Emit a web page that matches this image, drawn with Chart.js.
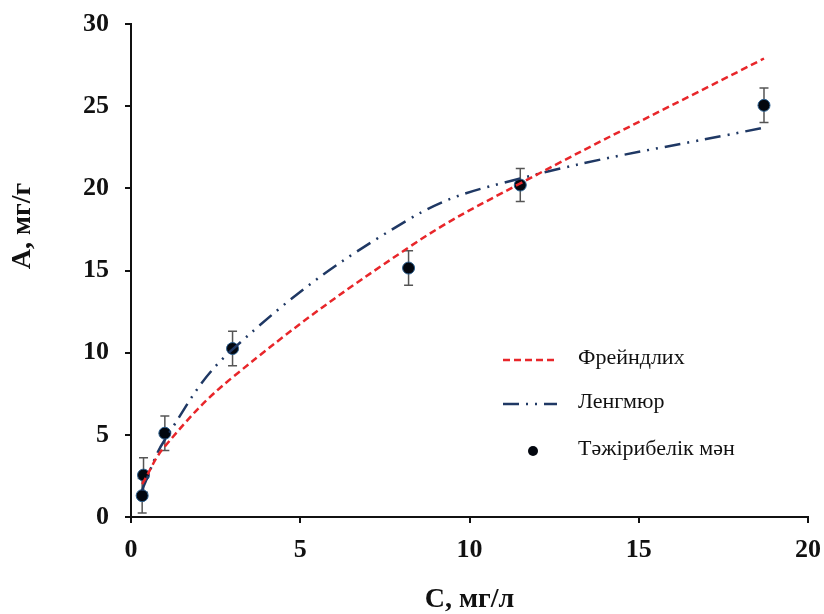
<!DOCTYPE html>
<html>
<head>
<meta charset="utf-8">
<script src="https://cdn.jsdelivr.net/npm/chart.js@4.4.1/dist/chart.umd.min.js"></script>
<style>
  html, body { margin: 0; padding: 0; background: #fff; }
  #wrap { width: 824px; height: 614px; }
</style>
</head>
<body>
<div id="wrap"><canvas id="myChart" width="824" height="614"></canvas></div>
<script>
  // C, мг/л  (experimental points)
  const concC = [0.33, 0.37, 1.0, 3.0, 8.2, 11.5, 18.7];
  // А, мг/г
  const expA = [1.3, 2.55, 5.1, 10.25, 15.15, 20.2, 25.05];
  const errA = [1.05, 1.05, 1.05, 1.05, 1.05, 1.0, 1.05];
  // model curves read at the same C values
  const freundlichA = [2.0, 2.15, 4.3, 8.5, 16.4, 20.3, 27.9];
  const langmuirA = [1.6, 1.85, 4.7, 10.2, 18.1, 20.6, 23.7];

  const xTicks = [0, 5, 10, 15, 20];
  const yTicks = [0, 5, 10, 15, 20, 25, 30];

  const xTitle = 'С, мг/л';
  const yTitle = 'А, мг/г';

  const serif = "'Times New Roman', 'Liberation Serif', serif";

  const pts = (ys) => concC.map((c, i) => ({ x: c, y: ys[i] }));

  const data = {
    datasets: [
      {
        label: 'Фрейндлих',
        data: pts(freundlichA),
        showLine: true,
        borderColor: '#e8262a',
        borderWidth: 2.5,
        borderDash: [7, 4],
        pointRadius: 0,
        tension: 0.4,
        fill: false
      },
      {
        label: 'Ленгмюр',
        data: pts(langmuirA),
        showLine: true,
        borderColor: '#1f3864',
        borderWidth: 2.5,
        borderDash: [16, 7, 2, 7, 2, 7],
        pointRadius: 0,
        tension: 0.4,
        fill: false
      },
      {
        label: 'Тәжірибелік мән',
        data: pts(expA),
        showLine: false,
        pointRadius: 6,
        pointBackgroundColor: '#03070f',
        pointBorderColor: '#2b5f8f',
        pointBorderWidth: 1
      }
    ]
  };

  // error bars on the experimental series
  const errorBars = {
    id: 'errorBars',
    beforeDatasetsDraw(chart) {
      const ctx = chart.ctx;
      const xs = chart.scales.x, ys = chart.scales.y;
      ctx.save();
      ctx.strokeStyle = '#555';
      ctx.lineWidth = 1.5;
      concC.forEach((c, i) => {
        const px = xs.getPixelForValue(c);
        const top = ys.getPixelForValue(expA[i] + errA[i]);
        const bot = ys.getPixelForValue(expA[i] - errA[i]);
        ctx.beginPath();
        ctx.moveTo(px, top); ctx.lineTo(px, bot);
        ctx.moveTo(px - 4.5, top); ctx.lineTo(px + 4.5, top);
        ctx.moveTo(px - 4.5, bot); ctx.lineTo(px + 4.5, bot);
        ctx.stroke();
      });
      ctx.restore();
    }
  };

  // legend drawn inside the plot + y title sitting a bit above centre
  const innerLegend = {
    id: 'innerLegend',
    afterDraw(chart) {
      const ctx = chart.ctx;
      const a = chart.chartArea;
      const x0 = a.left + 372, x1 = a.left + 426, tx = a.left + 447;
      const rows = [a.top + 336, a.top + 380, a.top + 427];
      ctx.save();
      ctx.font = '22px ' + serif;
      ctx.textBaseline = 'middle';
      ctx.fillStyle = '#111';
      chart.data.datasets.forEach((ds, i) => {
        const y = rows[i];
        if (ds.showLine) {
          ctx.beginPath();
          ctx.strokeStyle = ds.borderColor;
          ctx.lineWidth = ds.borderWidth;
          ctx.setLineDash(ds.borderDash);
          ctx.moveTo(x0, y); ctx.lineTo(x1, y);
          ctx.stroke();
          ctx.setLineDash([]);
        } else {
          ctx.beginPath();
          ctx.fillStyle = ds.pointBackgroundColor;
          ctx.arc((x0 + x1) / 2 + 3, y, 5, 0, Math.PI * 2);
          ctx.fill();
          ctx.fillStyle = '#111';
        }
        ctx.fillText(ds.label, tx, y - 2);
      });

      ctx.translate(23, a.top + 202);
      ctx.rotate(-Math.PI / 2);
      ctx.font = 'bold 28px ' + serif;
      ctx.textAlign = 'center';
      ctx.fillText(yTitle, 0, 0);
      ctx.restore();
    }
  };

  const config = {
    type: 'scatter',
    data: data,
    plugins: [errorBars, innerLegend],
    options: {
      responsive: false,
      animation: false,
      layout: { padding: 0 },
      plugins: {
        legend: { display: false },
        tooltip: { enabled: false }
      },
      scales: {
        x: {
          type: 'linear',
          min: 0, max: 20,
          afterFit(scale) {
            scale.height = 97;
            scale.paddingLeft = 0;
            scale.paddingRight = 16;
          },
          afterBuildTicks(scale) { scale.ticks = xTicks.map(v => ({ value: v })); },
          border: { display: true, color: '#111', width: 2 },
          grid: { drawOnChartArea: false, drawTicks: true, tickLength: 6, color: '#111', lineWidth: 2 },
          ticks: { color: '#111', padding: 12, maxRotation: 0, font: { family: serif, size: 26, weight: 'bold' } },
          title: {
            display: true, text: xTitle, color: '#111',
            padding: { top: 0, bottom: 0 },
            font: { family: serif, size: 28, weight: 'bold', lineHeight: 1 }
          }
        },
        y: {
          type: 'linear',
          min: 0, max: 30,
          afterFit(scale) {
            scale.width = 131;
            scale.paddingTop = 24;
            scale.paddingBottom = 0;
          },
          afterBuildTicks(scale) { scale.ticks = yTicks.map(v => ({ value: v })); },
          border: { display: true, color: '#111', width: 2 },
          grid: { drawOnChartArea: false, drawTicks: true, tickLength: 6, color: '#111', lineWidth: 2 },
          ticks: { color: '#111', padding: 16, font: { family: serif, size: 26, weight: 'bold' } },
          title: { display: false }
        }
      }
    }
  };

  const myChart = new Chart(document.getElementById('myChart'), config);
</script>
</body>
</html>
